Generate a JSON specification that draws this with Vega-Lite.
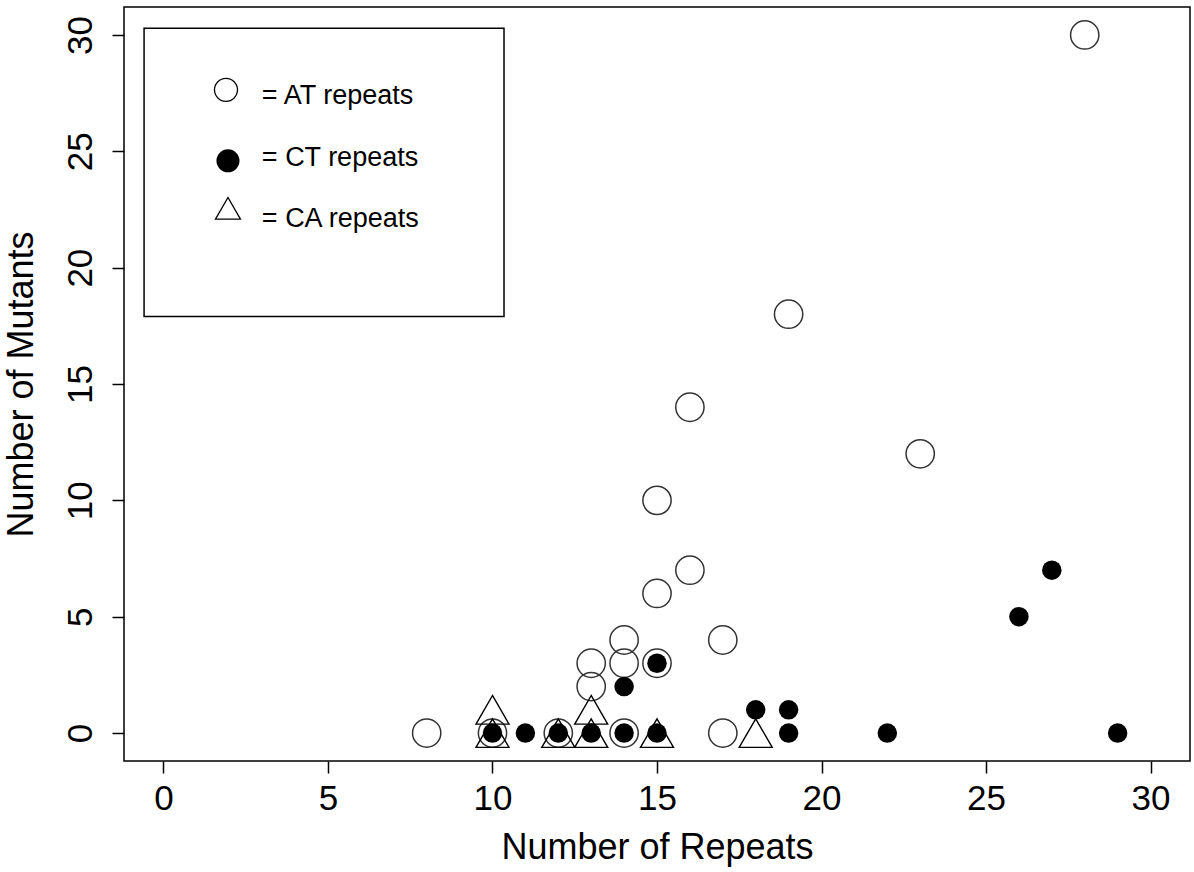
{
  "$schema": "https://vega.github.io/schema/vega-lite/v6.json",
  "width": 1066,
  "height": 754,
  "autosize": {"type": "none"},
  "padding": {"left": 124, "top": 7, "right": 4, "bottom": 111},
  "background": "white",
  "config": {
    "view": {"stroke": "black", "strokeWidth": 1.5},
    "font": "Liberation Sans",
    "axis": {
      "domain": false,
      "grid": false,
      "ticks": true,
      "tickSize": 12,
      "tickColor": "black",
      "tickWidth": 1.5,
      "labelFont": "Liberation Sans",
      "labelFontSize": 35,
      "labelColor": "black",
      "labelFlush": false,
      "labelOverlap": false,
      "titleFont": "Liberation Sans",
      "titleFontSize": 36,
      "titleFontWeight": "normal",
      "titleColor": "black"
    }
  },
  "datasets": {
    "points": [
      {"x": 8, "y": 0, "type": "AT"},
      {"x": 10, "y": 0, "type": "AT"},
      {"x": 12, "y": 0, "type": "AT"},
      {"x": 14, "y": 0, "type": "AT"},
      {"x": 17, "y": 0, "type": "AT"},
      {"x": 13, "y": 2, "type": "AT"},
      {"x": 13, "y": 3, "type": "AT"},
      {"x": 14, "y": 3, "type": "AT"},
      {"x": 14, "y": 4, "type": "AT"},
      {"x": 15, "y": 3, "type": "AT"},
      {"x": 17, "y": 4, "type": "AT"},
      {"x": 15, "y": 6, "type": "AT"},
      {"x": 16, "y": 7, "type": "AT"},
      {"x": 15, "y": 10, "type": "AT"},
      {"x": 23, "y": 12, "type": "AT"},
      {"x": 16, "y": 14, "type": "AT"},
      {"x": 19, "y": 18, "type": "AT"},
      {"x": 28, "y": 30, "type": "AT"},
      {"x": 10, "y": 0, "type": "CT"},
      {"x": 11, "y": 0, "type": "CT"},
      {"x": 12, "y": 0, "type": "CT"},
      {"x": 13, "y": 0, "type": "CT"},
      {"x": 14, "y": 0, "type": "CT"},
      {"x": 15, "y": 0, "type": "CT"},
      {"x": 14, "y": 2, "type": "CT"},
      {"x": 15, "y": 3, "type": "CT"},
      {"x": 18, "y": 1, "type": "CT"},
      {"x": 19, "y": 1, "type": "CT"},
      {"x": 19, "y": 0, "type": "CT"},
      {"x": 22, "y": 0, "type": "CT"},
      {"x": 26, "y": 5, "type": "CT"},
      {"x": 27, "y": 7, "type": "CT"},
      {"x": 29, "y": 0, "type": "CT"},
      {"x": 10, "y": 0, "type": "CA"},
      {"x": 10, "y": 1, "type": "CA"},
      {"x": 12, "y": 0, "type": "CA"},
      {"x": 13, "y": 0, "type": "CA"},
      {"x": 13, "y": 1, "type": "CA"},
      {"x": 15, "y": 0, "type": "CA"},
      {"x": 18, "y": 0, "type": "CA"}
    ],
    "legendBox": [{"x": -0.59, "x2": 10.35, "y": 30.29, "y2": 17.9}],
    "legendSymbols": [
      {"x": 1.9, "y": 27.64, "type": "AT"},
      {"x": 1.96, "y": 24.59, "type": "CT"},
      {"x": 1.96, "y": 22.55, "type": "CA"}
    ],
    "legendText": [
      {"x": 2.99, "y": 27.02, "label": "= AT repeats"},
      {"x": 2.99, "y": 24.35, "label": "= CT repeats"},
      {"x": 2.99, "y": 21.73, "label": "= CA repeats"}
    ]
  },
  "encoding": {
    "x": {
      "field": "x",
      "type": "quantitative",
      "scale": {"domain": [-1.2, 31.2], "nice": false, "zero": false},
      "axis": {
        "values": [0, 5, 10, 15, 20, 25, 30],
        "format": "d",
        "labelPadding": 8,
        "title": "Number of Repeats",
        "titlePadding": 14
      }
    },
    "y": {
      "field": "y",
      "type": "quantitative",
      "scale": {"domain": [-1.2, 31.2], "nice": false, "zero": false},
      "axis": {
        "values": [0, 5, 10, 15, 20, 25, 30],
        "format": "d",
        "labelAngle": -90,
        "labelAlign": "center",
        "labelBaseline": "bottom",
        "labelPadding": 14,
        "title": "Number of Mutants",
        "titlePadding": 23
      }
    }
  },
  "layer": [
    {
      "data": {"name": "legendBox"},
      "mark": {"type": "rect", "fill": "white", "stroke": "black", "strokeWidth": 1.5},
      "encoding": {"x2": {"field": "x2"}, "y2": {"field": "y2"}}
    },
    {
      "data": {"name": "points"},
      "transform": [{"filter": "datum.type === 'AT'"}],
      "mark": {"type": "point", "shape": "circle", "filled": false, "size": 800, "stroke": "#333333", "strokeWidth": 1.5, "opacity": 1}
    },
    {
      "data": {"name": "points"},
      "transform": [{"filter": "datum.type === 'CT'"}],
      "mark": {"type": "point", "shape": "circle", "filled": true, "size": 380, "fill": "black", "opacity": 1}
    },
    {
      "data": {"name": "points"},
      "transform": [{"filter": "datum.type === 'CA'"}],
      "mark": {"type": "point", "shape": "triangle-up", "filled": false, "size": 1089, "stroke": "black", "strokeWidth": 1.4, "opacity": 1}
    },
    {
      "data": {"name": "legendSymbols"},
      "transform": [{"filter": "datum.type === 'AT'"}],
      "mark": {"type": "point", "shape": "circle", "filled": false, "size": 531, "stroke": "black", "strokeWidth": 1.3, "opacity": 1}
    },
    {
      "data": {"name": "legendSymbols"},
      "transform": [{"filter": "datum.type === 'CT'"}],
      "mark": {"type": "point", "shape": "circle", "filled": true, "size": 531, "fill": "black", "opacity": 1}
    },
    {
      "data": {"name": "legendSymbols"},
      "transform": [{"filter": "datum.type === 'CA'"}],
      "mark": {"type": "point", "shape": "triangle-up", "filled": false, "size": 625, "stroke": "black", "strokeWidth": 1.3, "opacity": 1}
    },
    {
      "data": {"name": "legendText"},
      "mark": {"type": "text", "align": "left", "baseline": "alphabetic", "fontSize": 27, "font": "Liberation Sans", "color": "black"},
      "encoding": {"text": {"field": "label"}}
    }
  ]
}
